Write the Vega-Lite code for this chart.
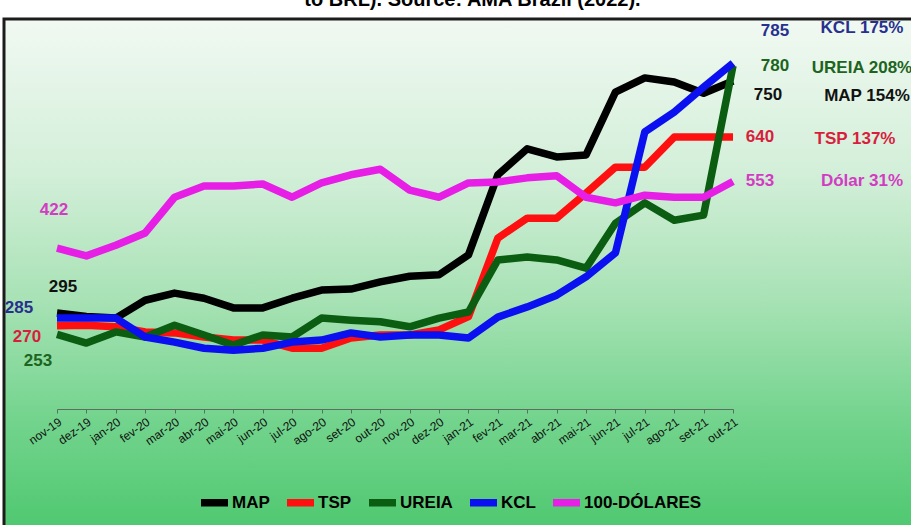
{
  "$schema": "https://vega.github.io/schema/vega-lite/v6.json",
  "autosize": {"type": "none"},
  "padding": {"left": 4, "top": 19, "right": -10, "bottom": -4},
  "width": 917,
  "height": 510,
  "title": {"text": "to BRL). Source: AMA Brazil (2022).", "fontSize": 20, "font": "Liberation Sans", "fontWeight": "bold", "color": "#000000", "offset": 6, "anchor": "middle", "dx": 10, "dy": -3},
  "config": {
    "view": {
      "fill": {"gradient": "linear", "x1": 0, "y1": 0, "x2": 0, "y2": 1,
        "stops": [
          {"offset": 0, "color": "#f1f9f2"},
          {"offset": 0.3, "color": "#d3efd9"},
          {"offset": 0.55, "color": "#a8e2b5"},
          {"offset": 0.78, "color": "#74d48e"},
          {"offset": 1, "color": "#4fc870"}
        ]},
      "stroke": "#1c1c1c",
      "strokeWidth": 3
    },
    "axis": {"grid": false},
    "font": "Liberation Sans"
  },
  "data": {"values": [
    {"month": "nov-19", "series": "MAP", "value": 295}, {"month": "dez-19", "series": "MAP", "value": 288}, {"month": "jan-20", "series": "MAP", "value": 285}, {"month": "fev-20", "series": "MAP", "value": 320}, {"month": "mar-20", "series": "MAP", "value": 334}, {"month": "abr-20", "series": "MAP", "value": 324}, {"month": "mai-20", "series": "MAP", "value": 305}, {"month": "jun-20", "series": "MAP", "value": 305}, {"month": "jul-20", "series": "MAP", "value": 324}, {"month": "ago-20", "series": "MAP", "value": 340}, {"month": "set-20", "series": "MAP", "value": 342}, {"month": "out-20", "series": "MAP", "value": 356}, {"month": "nov-20", "series": "MAP", "value": 367}, {"month": "dez-20", "series": "MAP", "value": 370}, {"month": "jan-21", "series": "MAP", "value": 409}, {"month": "fev-21", "series": "MAP", "value": 566}, {"month": "mar-21", "series": "MAP", "value": 617}, {"month": "abr-21", "series": "MAP", "value": 601}, {"month": "mai-21", "series": "MAP", "value": 605}, {"month": "jun-21", "series": "MAP", "value": 728}, {"month": "jul-21", "series": "MAP", "value": 756}, {"month": "ago-21", "series": "MAP", "value": 748}, {"month": "set-21", "series": "MAP", "value": 726}, {"month": "out-21", "series": "MAP", "value": 750},
    {"month": "nov-19", "series": "TSP", "value": 270}, {"month": "dez-19", "series": "TSP", "value": 271}, {"month": "jan-20", "series": "TSP", "value": 268}, {"month": "fev-20", "series": "TSP", "value": 258}, {"month": "mar-20", "series": "TSP", "value": 256}, {"month": "abr-20", "series": "TSP", "value": 248}, {"month": "mai-20", "series": "TSP", "value": 242}, {"month": "jun-20", "series": "TSP", "value": 242}, {"month": "jul-20", "series": "TSP", "value": 226}, {"month": "ago-20", "series": "TSP", "value": 226}, {"month": "set-20", "series": "TSP", "value": 246}, {"month": "out-20", "series": "TSP", "value": 252}, {"month": "nov-20", "series": "TSP", "value": 252}, {"month": "dez-20", "series": "TSP", "value": 262}, {"month": "jan-21", "series": "TSP", "value": 288}, {"month": "fev-21", "series": "TSP", "value": 442}, {"month": "mar-21", "series": "TSP", "value": 481}, {"month": "abr-21", "series": "TSP", "value": 481}, {"month": "mai-21", "series": "TSP", "value": 530}, {"month": "jun-21", "series": "TSP", "value": 581}, {"month": "jul-21", "series": "TSP", "value": 581}, {"month": "ago-21", "series": "TSP", "value": 640}, {"month": "set-21", "series": "TSP", "value": 640}, {"month": "out-21", "series": "TSP", "value": 640},
    {"month": "nov-19", "series": "UREIA", "value": 253}, {"month": "dez-19", "series": "UREIA", "value": 236}, {"month": "jan-20", "series": "UREIA", "value": 258}, {"month": "fev-20", "series": "UREIA", "value": 248}, {"month": "mar-20", "series": "UREIA", "value": 271}, {"month": "abr-20", "series": "UREIA", "value": 252}, {"month": "mai-20", "series": "UREIA", "value": 232}, {"month": "jun-20", "series": "UREIA", "value": 252}, {"month": "jul-20", "series": "UREIA", "value": 248}, {"month": "ago-20", "series": "UREIA", "value": 285}, {"month": "set-20", "series": "UREIA", "value": 281}, {"month": "out-20", "series": "UREIA", "value": 278}, {"month": "nov-20", "series": "UREIA", "value": 268}, {"month": "dez-20", "series": "UREIA", "value": 285}, {"month": "jan-21", "series": "UREIA", "value": 297}, {"month": "fev-21", "series": "UREIA", "value": 399}, {"month": "mar-21", "series": "UREIA", "value": 405}, {"month": "abr-21", "series": "UREIA", "value": 399}, {"month": "mai-21", "series": "UREIA", "value": 383}, {"month": "jun-21", "series": "UREIA", "value": 471}, {"month": "jul-21", "series": "UREIA", "value": 511}, {"month": "ago-21", "series": "UREIA", "value": 477}, {"month": "set-21", "series": "UREIA", "value": 487}, {"month": "out-21", "series": "UREIA", "value": 780},
    {"month": "nov-19", "series": "KCL", "value": 285}, {"month": "dez-19", "series": "KCL", "value": 285}, {"month": "jan-20", "series": "KCL", "value": 285}, {"month": "fev-20", "series": "KCL", "value": 248}, {"month": "mar-20", "series": "KCL", "value": 238}, {"month": "abr-20", "series": "KCL", "value": 226}, {"month": "mai-20", "series": "KCL", "value": 222}, {"month": "jun-20", "series": "KCL", "value": 226}, {"month": "jul-20", "series": "KCL", "value": 238}, {"month": "ago-20", "series": "KCL", "value": 242}, {"month": "set-20", "series": "KCL", "value": 256}, {"month": "out-20", "series": "KCL", "value": 248}, {"month": "nov-20", "series": "KCL", "value": 252}, {"month": "dez-20", "series": "KCL", "value": 252}, {"month": "jan-21", "series": "KCL", "value": 246}, {"month": "fev-21", "series": "KCL", "value": 287}, {"month": "mar-21", "series": "KCL", "value": 307}, {"month": "abr-21", "series": "KCL", "value": 330}, {"month": "mai-21", "series": "KCL", "value": 366}, {"month": "jun-21", "series": "KCL", "value": 413}, {"month": "jul-21", "series": "KCL", "value": 650}, {"month": "ago-21", "series": "KCL", "value": 689}, {"month": "set-21", "series": "KCL", "value": 738}, {"month": "out-21", "series": "KCL", "value": 785},
    {"month": "nov-19", "series": "100-DÓLARES", "value": 422}, {"month": "dez-19", "series": "100-DÓLARES", "value": 407}, {"month": "jan-20", "series": "100-DÓLARES", "value": 428}, {"month": "fev-20", "series": "100-DÓLARES", "value": 452}, {"month": "mar-20", "series": "100-DÓLARES", "value": 522}, {"month": "abr-20", "series": "100-DÓLARES", "value": 544}, {"month": "mai-20", "series": "100-DÓLARES", "value": 544}, {"month": "jun-20", "series": "100-DÓLARES", "value": 548}, {"month": "jul-20", "series": "100-DÓLARES", "value": 522}, {"month": "ago-20", "series": "100-DÓLARES", "value": 550}, {"month": "set-20", "series": "100-DÓLARES", "value": 566}, {"month": "out-20", "series": "100-DÓLARES", "value": 577}, {"month": "nov-20", "series": "100-DÓLARES", "value": 536}, {"month": "dez-20", "series": "100-DÓLARES", "value": 522}, {"month": "jan-21", "series": "100-DÓLARES", "value": 550}, {"month": "fev-21", "series": "100-DÓLARES", "value": 552}, {"month": "mar-21", "series": "100-DÓLARES", "value": 560}, {"month": "abr-21", "series": "100-DÓLARES", "value": 564}, {"month": "mai-21", "series": "100-DÓLARES", "value": 522}, {"month": "jun-21", "series": "100-DÓLARES", "value": 511}, {"month": "jul-21", "series": "100-DÓLARES", "value": 526}, {"month": "ago-21", "series": "100-DÓLARES", "value": 522}, {"month": "set-21", "series": "100-DÓLARES", "value": 522}, {"month": "out-21", "series": "100-DÓLARES", "value": 553}
  ]},
  "layer": [
    {
      "mark": {"type": "line", "strokeJoin": "round"},
      "encoding": {
        "x": {
          "field": "month", "type": "ordinal",
          "scale": {"type": "point", "padding": 0, "domain": ["nov-19", "dez-19", "jan-20", "fev-20", "mar-20", "abr-20", "mai-20", "jun-20", "jul-20", "ago-20", "set-20", "out-20", "nov-20", "dez-20", "jan-21", "fev-21", "mar-21", "abr-21", "mai-21", "jun-21", "jul-21", "ago-21", "set-21", "out-21"], "range": [53, 729]},
          "axis": {"title": null, "offset": -120, "labelAngle": -35, "labelFontSize": 12, "labelColor": "#111111", "labelFont": "Liberation Sans", "domainColor": "#5b6f5e", "tickColor": "#5b6f5e", "tickSize": 4, "labelPadding": 3}
        },
        "y": {"field": "value", "type": "quantitative", "scale": {"domain": [-128.5, 871.5], "nice": false, "zero": false}, "axis": null},
        "color": {
          "field": "series", "type": "nominal",
          "scale": {"domain": ["MAP", "TSP", "UREIA", "KCL", "100-DÓLARES"], "range": ["#000000", "#ff1010", "#0b5d12", "#0a10f0", "#e61ee6"]},
          "legend": {"orient": "none", "legendX": 193, "legendY": 466, "direction": "horizontal", "title": null, "symbolType": "stroke", "symbolStrokeWidth": 6, "symbolSize": 729, "labelFontSize": 17, "labelFontWeight": "bold", "labelFont": "Liberation Sans", "labelColor": "#000000", "labelOffset": 0, "columnPadding": 2}
        },
        "strokeWidth": {"field": "series", "type": "nominal", "scale": {"domain": ["MAP", "TSP", "UREIA", "KCL", "100-DÓLARES"], "range": [7.5, 7.5, 7.5, 7.5, 5]}, "legend": null}
      }
    },
    {
      "transform": [{"filter": "datum.month == 'nov-19'"}],
      "mark": {"type": "text", "fontSize": 17, "fontWeight": "bold", "font": "Liberation Sans",
        "dx": {"expr": "datum.series == '100-DÓLARES' ? -3 : datum.series == 'MAP' ? 6 : datum.series == 'KCL' ? -38 : datum.series == 'TSP' ? -30 : -19"},
        "dy": {"expr": "datum.series == '100-DÓLARES' ? -38 : datum.series == 'MAP' ? -26 : datum.series == 'KCL' ? -10 : datum.series == 'TSP' ? 11 : 27"}},
      "encoding": {
        "x": {"field": "month", "type": "ordinal"},
        "y": {"field": "value", "type": "quantitative"},
        "text": {"field": "value", "type": "quantitative"},
        "fill": {"field": "series", "type": "nominal", "scale": {"domain": ["MAP", "TSP", "UREIA", "KCL", "100-DÓLARES"], "range": ["#111111", "#d81e3c", "#1c6420", "#27308e", "#d23cc3"]}, "legend": null}
      }
    },
    {
      "transform": [{"filter": "datum.month == 'out-21'"}],
      "mark": {"type": "text", "fontSize": 17, "fontWeight": "bold", "font": "Liberation Sans",
        "dx": {"expr": "datum.series == 'KCL' ? 42 : datum.series == 'UREIA' ? 42 : datum.series == 'MAP' ? 35 : 27"},
        "dy": {"expr": "datum.series == 'KCL' ? -32 : datum.series == 'MAP' ? 14 : 0"}},
      "encoding": {
        "x": {"field": "month", "type": "ordinal"},
        "y": {"field": "value", "type": "quantitative"},
        "text": {"field": "value", "type": "quantitative"},
        "fill": {"field": "series", "type": "nominal", "legend": null}
      }
    },
    {
      "transform": [
        {"window": [{"op": "first_value", "field": "value", "as": "start"}], "groupby": ["series"], "frame": [null, null]},
        {"filter": "datum.month == 'out-21'"},
        {"calculate": "(datum.series == '100-DÓLARES' ? 'Dólar' : datum.series) + ' ' + round((datum.value / datum.start - 1) * 100) + '%'", "as": "label"}
      ],
      "mark": {"type": "text", "fontSize": 17, "fontWeight": "bold", "font": "Liberation Sans",
        "dx": {"expr": "datum.series == 'MAP' ? 134 : datum.series == 'TSP' ? 122 : 129"},
        "dy": {"expr": "datum.series == 'KCL' ? -35 : datum.series == 'MAP' ? 15 : datum.series == 'UREIA' ? 2 : datum.series == 'TSP' ? 2 : 0"}},
      "encoding": {
        "x": {"field": "month", "type": "ordinal"},
        "y": {"field": "value", "type": "quantitative"},
        "text": {"field": "label", "type": "nominal"},
        "fill": {"field": "series", "type": "nominal", "legend": null}
      }
    }
  ]
}
